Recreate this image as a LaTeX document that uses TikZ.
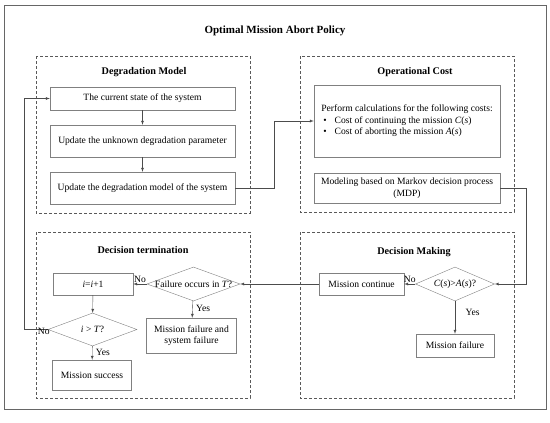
\documentclass[tikz,border=0pt]{standalone}
\usepackage{fontspec}
\setmainfont{Liberation Serif}
\usetikzlibrary{calc, positioning, shapes, arrows}
\tikzstyle{every node}=[font=\fontsize{9.6}{11.5}\selectfont]
\tikzstyle{proc box}=[draw=black!50, fill=white, inner sep=1pt, align=center]
\tikzstyle{decision}=[diamond, draw=black!50, inner sep=0pt]
\tikzstyle{group}=[draw=black!65, dash pattern=on 3pt off 2pt]
\tikzstyle{group title}=[font=\fontsize{10.2}{12}\selectfont\bfseries]
\tikzstyle{flow}=[->, >=latex, draw=black!70]

\begin{document}
\begin{tikzpicture}[x=1pt, y=-1pt]
		\useasboundingbox (0,0) rectangle (550,423);
		\draw[black!60, line width=0.8pt] (4,5) rectangle (546,409);
		\node[font=\fontsize{11}{13}\selectfont\bfseries] (title) at (275,31) {Optimal Mission Abort Policy};
		% the four groups
		\draw[group] (36,56) rectangle (250,213);
		\draw[group] (300,56) rectangle (514,212);
		\draw[group] (36,232) rectangle (250,398);
		\draw[group] (300,232) rectangle (514,398);
		\node[group title] (deg-t) at (144,72) {Degradation Model};
		\node[group title] (op-t) at (415,72) {Operational Cost};
		\node[group title] (dt-t) at (143,250) {Decision termination};
		\node[group title] (dm-t) at (414,252) {Decision Making};
		% degradation model
		\node[proc box, minimum width=185pt, minimum height=23pt] (cur) at (142.5,98.5) {The current state of the system};
		\node[proc box, minimum width=185pt, minimum height=32pt] (unk) at (142.5,141) {Update the unknown degradation parameter};
		\node[proc box, minimum width=185pt, minimum height=32pt] (upd) at (142.5,188) {Update the degradation model of the system};
		% operational cost
		\node[proc box, minimum width=186pt, minimum height=72pt, align=left] (perf) at (407,121) {Perform calculations for the following costs:\\
			\hspace*{2pt}\textbullet\hspace{8pt}Cost of continuing the mission \textit{C}(\textit{s})\\
			\hspace*{2pt}\textbullet\hspace{8pt}Cost of aborting the mission \textit{A}(\textit{s})};
		\node[proc box, minimum width=186pt, minimum height=30pt] (mdp) at (407,188) {Modeling based on Markov decision process\\(MDP)};
		% decision making
		\node[decision, minimum width=79pt, minimum height=34pt, label=center:{\textit{C}(\textit{s})>\textit{A}(\textit{s})?}] (cmp) at (455,284) {};
		\node[proc box, minimum width=85pt, minimum height=22pt] (cont) at (361.5,284) {Mission continue};
		\node[proc box, minimum width=78pt, minimum height=23pt] (mfail) at (455,345.5) {Mission failure};
		% decision termination
		\node[decision, minimum width=93pt, minimum height=34pt, label=center:{Failure occurs in \textit{T}?}] (fo) at (193.5,284) {};
		\node[proc box, minimum width=80pt, minimum height=22pt] (inc) at (93,284) {\textit{i}=\textit{i}+1};
		\node[proc box, minimum width=90pt, minimum height=35pt] (sysf) at (191.5,335.5) {Mission failure and\\system failure};
		\node[decision, minimum width=89pt, minimum height=33pt, label=center:{\textit{i} > \textit{T}?}] (gt) at (92.5,329.5) {};
		\node[proc box, minimum width=79pt, minimum height=30pt] (succ) at (92,375) {Mission success};
		\path
		(cur) edge[flow] (unk)
		(unk) edge[flow] (upd)
		(cmp) edge[flow] node[above, inner sep=1pt] {No} (cont)
		(cmp) edge[flow] node[right=7pt, pos=0.35] {Yes} (mfail)
		(cont) edge[flow] (fo)
		(fo) edge[flow] node[above, inner sep=1pt] {No} (inc)
		(fo) edge[flow] node[right, pos=0.45] {Yes} (sysf)
		(inc) edge[flow] (gt)
		(gt) edge[flow] node[right, pos=0.45] {Yes} (succ);
		\draw[flow] (upd.east) -- ++(39,0) |- (perf.west);
		\draw[flow] (mdp.east) -- ++(26,0) |- (cmp.east);
		\draw[flow] (gt.west) -- ++(-24,0) |- (cur.west);
		\node[anchor=east, inner sep=0pt, xshift=2pt, yshift=-1.5pt] (gt-no) at (gt.west) {No};
	\end{tikzpicture}
\end{document}
